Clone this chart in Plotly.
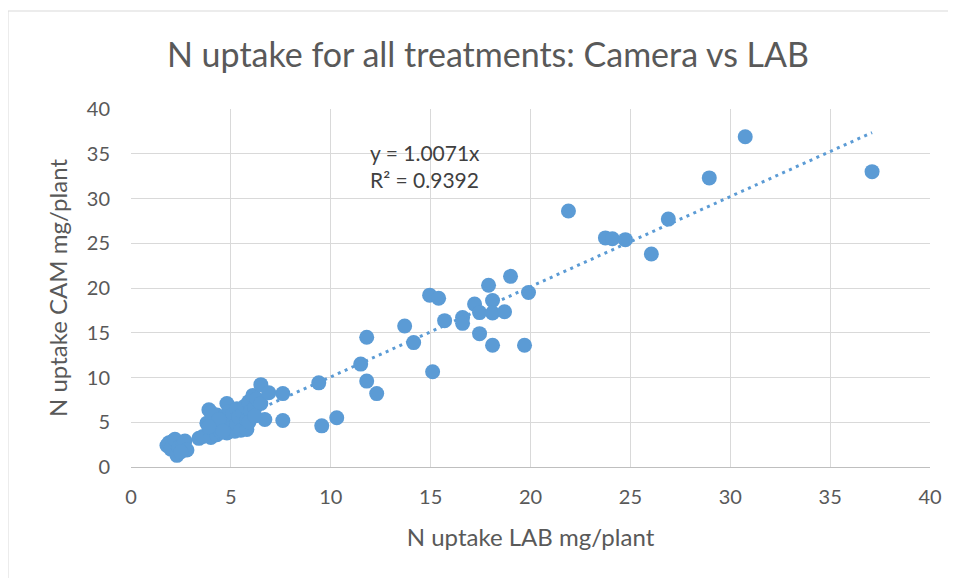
import plotly.graph_objects as go

# N uptake LAB (x) vs Camera (y), mg/plant
lab = [
    # lower-left cluster
    1.8, 1.9, 2.0, 2.1, 2.2, 2.3, 2.4, 2.6, 2.7, 2.8, 2.5,
    # main cluster
    3.4, 3.6, 3.8, 3.9, 4.0, 4.1, 4.2, 4.3, 4.3, 4.5, 4.5, 4.6, 4.7, 4.8,
    4.8, 4.9, 5.0, 5.0, 5.1, 5.2, 5.3, 5.3, 5.4, 5.5, 5.6, 5.7, 5.8, 5.8,
    5.9, 6.0, 6.1, 6.2, 6.3, 6.5, 6.5, 6.9, 7.6, 6.7, 7.6, 4.0, 4.4, 3.9,
    5.9, 6.2, 4.6,
    # mid range
    9.4, 9.55, 10.3, 11.5, 11.8, 11.8, 12.3, 13.7, 14.15, 14.95, 15.4, 15.1,
    15.7, 16.6, 16.6, 17.2, 17.45, 17.45, 17.9, 18.1, 18.1, 18.1, 18.7, 19.0,
    19.7, 19.9,
    # upper range
    21.9, 23.75, 24.1, 24.75, 26.05, 26.9, 28.95, 30.75, 37.1,
]
cam = [
    2.4, 2.7, 2.0, 2.9, 3.1, 1.3, 2.2, 2.5, 2.9, 1.9, 1.7,
    3.2, 3.4, 4.9, 6.4, 3.3, 4.2, 5.0, 3.6, 5.8, 4.5, 3.9, 5.5, 4.8, 7.1,
    3.8, 6.2, 5.2, 4.3, 5.9, 4.0, 6.5, 4.8, 5.6, 4.1, 6.0, 6.8, 4.2, 5.2,
    7.3, 6.2, 8.0, 6.6, 7.6, 9.2, 7.1, 8.3, 8.2, 5.3, 5.2, 6.1, 5.3, 4.5,
    5.0, 5.7, 4.0,
    9.4, 4.6, 5.5, 11.5, 14.5, 9.6, 8.2, 15.75, 13.9, 19.2, 18.85, 10.65,
    16.35, 16.7, 16.05, 18.2, 17.25, 14.9, 20.3, 18.6, 17.2, 13.6, 17.35, 21.3,
    13.6, 19.5,
    28.6, 25.6, 25.5, 25.4, 23.8, 27.7, 32.3, 36.9, 33.0,
]

slope = 1.0071
r2 = 0.9392
x_ticks = [0, 5, 10, 15, 20, 25, 30, 35, 40]
y_ticks = [0, 5, 10, 15, 20, 25, 30, 35, 40]

blue = "#5B9BD5"
grey_text = "#595959"

# page offset of the figure (body margin) and target plot-area box in page px
OFF = 8
PL, PR, PT, PB = 131, 930, 109, 467
W, H = 956, 578
pw, ph = PR - PL, PB - PT

fig = go.Figure()

# trendline (through origin)
tx = [min(lab), max(lab)]
ty = [slope * v for v in tx]
fig.add_trace(go.Scatter(
    x=tx, y=ty, mode="lines",
    line=dict(color=blue, width=3, dash="3px,4.5px"),
    hoverinfo="skip", showlegend=False,
))

fig.add_trace(go.Scatter(
    x=lab, y=cam, mode="markers",
    marker=dict(color=blue, size=15, line=dict(width=0)),
    showlegend=False,
))

font_family = "Lato, 'Open Sans', sans-serif"

fig.update_layout(
    width=W, height=H,
    paper_bgcolor="white", plot_bgcolor="white",
    margin=dict(l=PL - OFF, r=W - (PR - OFF), t=PT - OFF, b=H - (PB - OFF)),
    font=dict(family=font_family, color=grey_text),
    title=dict(
        text="N uptake for all treatments: Camera vs LAB",
        x=(488 - OFF) / W, xanchor="center", y=1 - (55 - OFF) / H, yanchor="middle",
        font=dict(size=34, color=grey_text, family=font_family),
    ),
    xaxis=dict(
        range=[0, 40], tickvals=x_ticks, ticktext=[str(t) for t in x_ticks],
        showgrid=True, gridcolor="#D9D9D9", gridwidth=1,
        zeroline=False, showline=True, linecolor="#BFBFBF", linewidth=1,
        mirror=False, ticks="", tickfont=dict(size=20, color=grey_text),
        ticklabelstandoff=12,
        title=dict(text="N uptake LAB mg/plant", font=dict(size=24, color=grey_text), standoff=22),
    ),
    yaxis=dict(
        range=[0, 40], tickvals=y_ticks, ticktext=[str(t) for t in y_ticks],
        showgrid=True, gridcolor="#D9D9D9", gridwidth=1,
        zeroline=False, showline=False,
        ticks="", tickfont=dict(size=20, color=grey_text),
        ticklabelstandoff=20,
        title=dict(text="N uptake CAM mg/plant", font=dict(size=24, color=grey_text), standoff=12),
    ),
    annotations=[
        dict(
            text=f"y = {slope}x<br>R² = {r2}",
            xref="paper", yref="paper",
            x=(368 - PL) / pw, y=(PB - 138) / ph,
            xanchor="left", yanchor="top", align="left",
            showarrow=False,
            font=dict(size=21, color="#404040", family=font_family),
        )
    ],
    shapes=[
        dict(type="line", xref="paper", yref="paper",
             x0=(8 - PL) / pw, x1=(980 - PL) / pw,
             y0=(PB - 11) / ph, y1=(PB - 11) / ph,
             line=dict(color="#D9D9D9", width=1)),
        dict(type="line", xref="paper", yref="paper",
             x0=(8 - PL) / pw, x1=(8 - PL) / pw,
             y0=(PB - 11) / ph, y1=(PB - 600) / ph,
             line=dict(color="#D9D9D9", width=1)),
    ],
)

fig.write_html("out.html")
